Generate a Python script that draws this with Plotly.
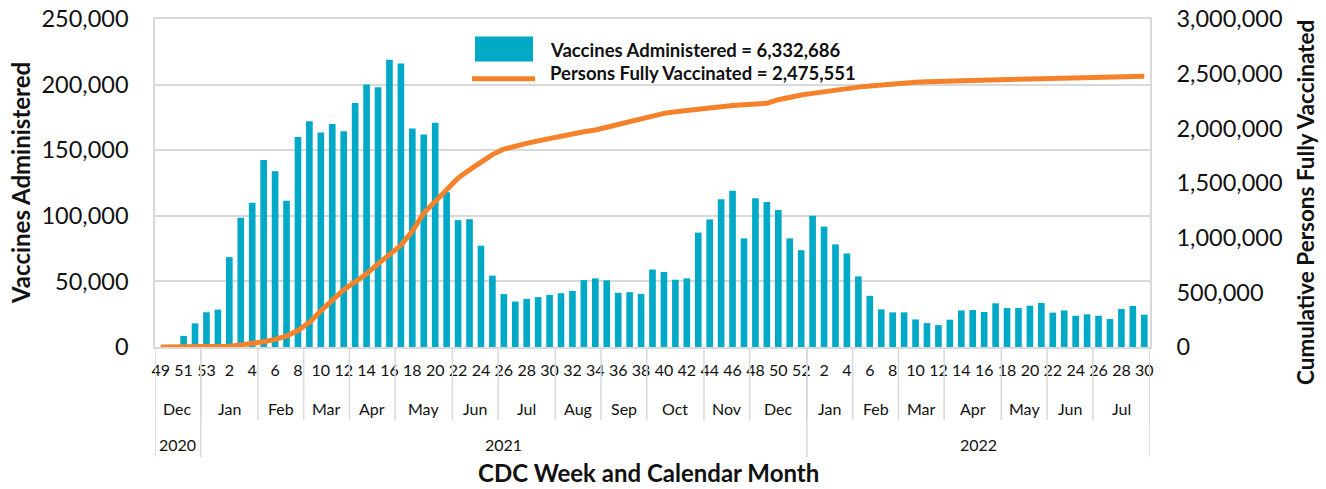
import plotly.graph_objects as go

# ---------------- data ----------------
week_numbers = [49, 50, 51, 52, 53] + list(range(1, 53)) + list(range(1, 31))

vaccines_administered = [
    # 2020 wk49-53
    0, 0, 8500, 18000, 26500,
    # 2021 wk1-52
    28500, 68500, 98500, 110000, 142500, 134000, 111500, 160000, 172000, 163500,
    170000, 164500, 186000, 200000, 198000, 219000, 216000, 166500, 162000, 171000,
    118000, 96700, 97400, 77200, 54400, 40300, 34600, 36700, 38000, 39700,
    41000, 42800, 51000, 52300, 50800, 41300, 41800, 40500, 59000, 57200,
    51300, 52300, 87200, 97200, 112600, 119000, 82800, 113300, 110500, 104400,
    82800, 73800,
    # 2022 wk1-30
    100000, 91800, 78200, 71300, 53800, 39000, 28700, 26400, 26400, 21000,
    18200, 16700, 20800, 27900, 28200, 26700, 33300, 29700, 29700, 31500,
    33600, 26200, 27900, 23800, 24900, 23800, 21300, 29000, 31300, 24600,
]

persons_fully_vaccinated = [
    # 2020 wk49-53
    0, 0, 0, 0, 1000,
    # 2021 wk1-52
    3000, 8000, 18000, 30000, 48000, 70000, 100000, 150000, 225000, 330000,
    430000, 525000, 595000, 670000, 760000, 845000, 930000, 1060000, 1225000, 1330000,
    1440000, 1545000, 1620000, 1690000, 1760000, 1810000, 1840000, 1862000, 1885000, 1908000,
    1930000, 1950000, 1968000, 1985000, 2010000, 2040000, 2068000, 2095000, 2118000, 2137000,
    2152000, 2165000, 2177000, 2188000, 2198000, 2208000, 2216000, 2222000, 2229000, 2262000,
    2288000, 2305000,
    # 2022 wk1-30
    2320000, 2337000, 2352000, 2365000, 2377000, 2388000, 2398000, 2407000, 2415000, 2421000,
    2426000, 2430000, 2434000, 2438000, 2441000, 2444000, 2446000, 2448000, 2450000, 2452000,
    2454000, 2456000, 2458000, 2460000, 2462000, 2464000, 2466000, 2469000, 2472000, 2475551,
]

month_labels = ["Dec", "Jan", "Feb", "Mar", "Apr", "May", "Jun", "Jul", "Aug", "Sep",
                "Oct", "Nov", "Dec", "Jan", "Feb", "Mar", "Apr", "May", "Jun", "Jul"]
month_week_counts = [4, 5, 4, 4, 4, 5, 4, 5, 4, 4, 5, 4, 5, 4, 4, 4, 5, 4, 4, 5]

year_labels = ["2020", "2021", "2022"]
year_week_counts = [4, 53, 30]

total_vaccines = 6332686
total_fully_vaccinated = 2475551

left_ticks = [0, 50000, 100000, 150000, 200000, 250000]
right_ticks = [0, 500000, 1000000, 1500000, 2000000, 2500000, 3000000]

# ---------------- styling ----------------
FONT = "Lato"
TXT = "#111111"
GRID = "#d9d9d9"
BAR_COLOR = "#00AAC7"
LINE_COLOR = "#F5822A"

x_idx = list(range(len(week_numbers)))

fig = go.Figure()
fig.add_trace(go.Bar(
    x=x_idx, y=vaccines_administered, width=0.58,
    marker=dict(color=BAR_COLOR, line=dict(width=0)),
    name="Vaccines Administered", yaxis="y",
))
fig.add_trace(go.Scatter(
    x=x_idx, y=persons_fully_vaccinated, mode="lines",
    line=dict(color=LINE_COLOR, width=5),
    name="Persons Fully Vaccinated", yaxis="y2",
))

# figure fills the page (body margin removed below)
W, H = 1326, 489
L, R, T, B = 155, 1150, 19, 347
PH = B - T
PW = R - L


def py(ypix):
    return (B - ypix) / PH


def px(xpix):
    return (xpix - L) / PW


shapes = []
annotations = []

# month group labels and dividers
start = 0
for lab, n in zip(month_labels, month_week_counts):
    center = start + (n - 1) / 2
    annotations.append(dict(x=center, y=py(408), xref="x", yref="paper", text=lab,
                            showarrow=False, font=dict(family=FONT, size=16, color=TXT),
                            xanchor="center", yanchor="middle"))
    start += n
    shapes.append(dict(type="line", xref="x", yref="paper", x0=start - 0.5, x1=start - 0.5,
                       y0=0, y1=py(420), line=dict(color=GRID, width=1.5)))

# year group labels and dividers
start = 0
shapes.append(dict(type="line", xref="x", yref="paper", x0=-0.5, x1=-0.5,
                   y0=0, y1=py(457), line=dict(color=GRID, width=1.5)))
for lab, n in zip(year_labels, year_week_counts):
    center = start + (n - 1) / 2
    annotations.append(dict(x=center, y=py(444), xref="x", yref="paper", text=lab,
                            showarrow=False, font=dict(family=FONT, size=16, color=TXT),
                            xanchor="center", yanchor="middle"))
    start += n
    shapes.append(dict(type="line", xref="x", yref="paper", x0=start - 0.5, x1=start - 0.5,
                       y0=0, y1=py(457), line=dict(color=GRID, width=1.5)))

# axis titles
annotations.append(dict(x=px(648), y=py(472), xref="paper", yref="paper",
                        text="<b>CDC Week and Calendar Month</b>", showarrow=False,
                        font=dict(family=FONT, size=24, color=TXT),
                        xanchor="center", yanchor="middle"))
annotations.append(dict(x=px(20), y=0.5, xref="paper", yref="paper",
                        text="<b>Vaccines Administered</b>", showarrow=False, textangle=-90,
                        font=dict(family=FONT, size=24, color=TXT),
                        xanchor="center", yanchor="middle"))
annotations.append(dict(x=px(1305), y=py(203), xref="paper", yref="paper",
                        text="<b>Cumulative Persons Fully Vaccinated</b>", showarrow=False,
                        textangle=-90, font=dict(family=FONT, size=22.5, color=TXT),
                        xanchor="center", yanchor="middle"))

# custom legend
shapes.append(dict(type="rect", xref="paper", yref="paper",
                   x0=px(475), x1=px(533), y0=py(61.5), y1=py(36.5),
                   fillcolor=BAR_COLOR, line=dict(width=0)))
shapes.append(dict(type="line", xref="paper", yref="paper",
                   x0=px(472), x1=px(535), y0=py(78.8), y1=py(78.8),
                   line=dict(color=LINE_COLOR, width=5)))
annotations.append(dict(x=px(548), y=py(49.5), xref="paper", yref="paper",
                        text=f"<b>Vaccines Administered = {total_vaccines:,}</b>",
                        showarrow=False, font=dict(family=FONT, size=18.5, color=TXT),
                        xanchor="left", yanchor="middle"))
annotations.append(dict(x=px(548), y=py(73), xref="paper", yref="paper",
                        text=f"<b>Persons Fully Vaccinated = {total_fully_vaccinated:,}</b>",
                        showarrow=False, font=dict(family=FONT, size=18.5, color=TXT),
                        xanchor="left", yanchor="middle"))

week_tickvals = [i for i in x_idx if i % 2 == 0]
week_ticktext = [str(week_numbers[i]) for i in week_tickvals]

fig.update_layout(
    width=W, height=H,
    margin=dict(l=L, r=W - R, t=T, b=H - B, autoexpand=False),
    paper_bgcolor="white", plot_bgcolor="white",
    showlegend=False,
    font=dict(family=FONT, color=TXT),
    xaxis=dict(
        range=[-0.5, len(week_numbers) - 0.5],
        tickmode="array", tickvals=week_tickvals, ticktext=week_ticktext,
        tickangle=0, automargin=False, ticklabeloverflow="allow",
        tickfont=dict(family=FONT, size=16, color=TXT),
        ticks="outside", ticklen=8, tickcolor="rgba(0,0,0,0)",
        showgrid=False, zeroline=False,
        showline=True, linecolor=GRID, linewidth=1.5, mirror=True,
    ),
    yaxis=dict(
        range=[0, 250000], tickvals=left_ticks, tickformat=",",
        tickfont=dict(family=FONT, size=23.5, color=TXT), automargin=False,
        ticklabeloverflow="allow",
        ticks="outside", ticklen=20, tickcolor="rgba(0,0,0,0)",
        showgrid=True, gridcolor=GRID, gridwidth=1.5,
        zeroline=False, showline=True, linecolor=GRID, linewidth=1.5,
    ),
    yaxis2=dict(
        range=[0, 3000000], tickvals=right_ticks, tickformat=",",
        overlaying="y", side="right", automargin=False,
        ticklabeloverflow="allow",
        tickfont=dict(family=FONT, size=23.5, color=TXT),
        ticks="outside", ticklen=20, tickcolor="rgba(0,0,0,0)",
        showgrid=False, zeroline=False,
        showline=True, linecolor=GRID, linewidth=1.5,
    ),
    shapes=shapes,
    annotations=annotations,
)

fig.write_html(
    "out.html",
    config={"displayModeBar": False},
    post_script="document.body.style.margin='0';document.body.style.overflow='hidden';",
)
